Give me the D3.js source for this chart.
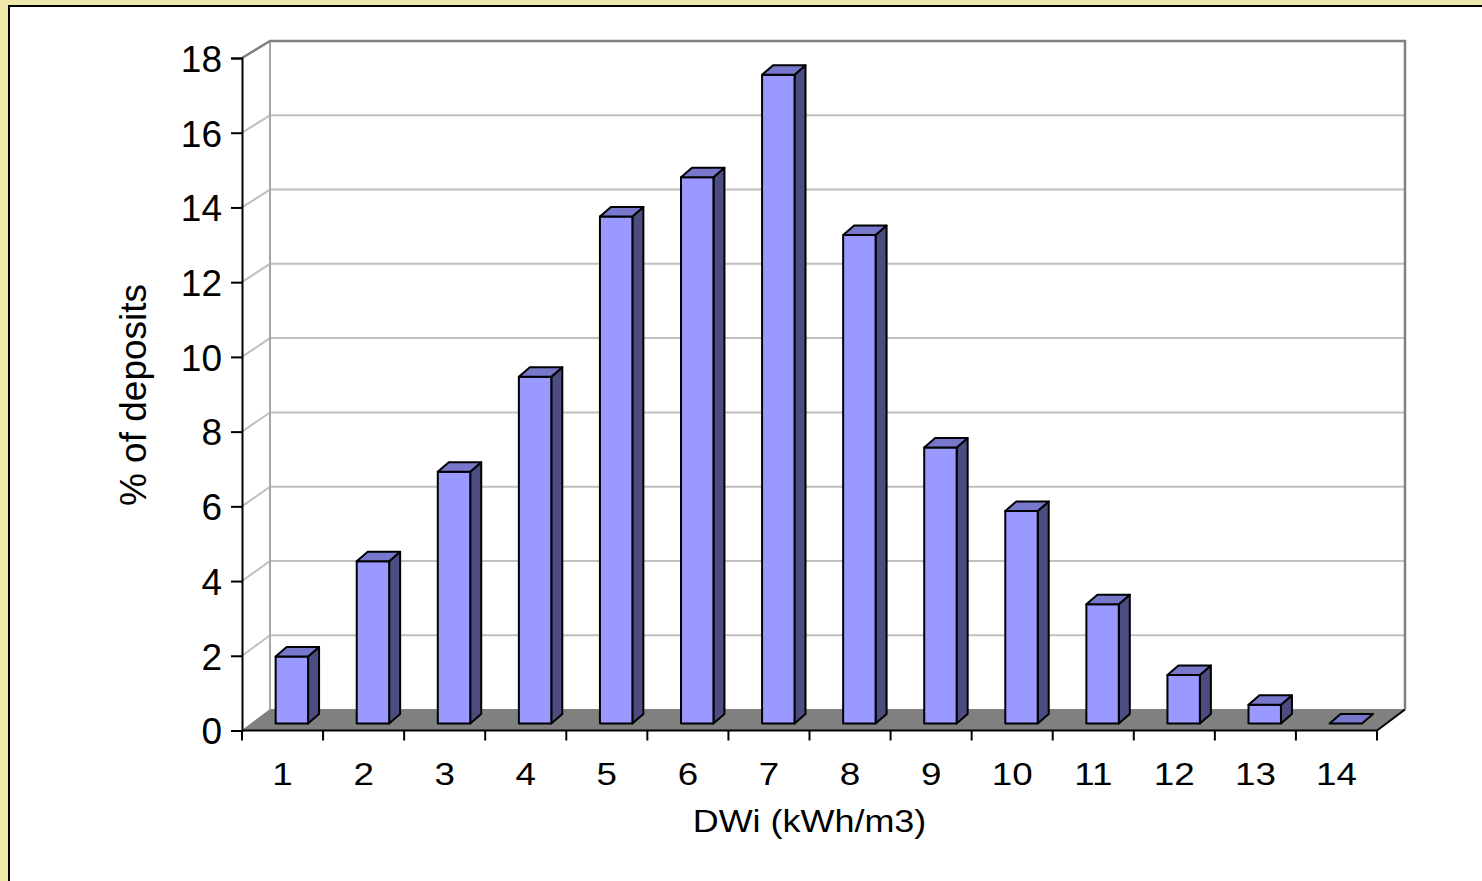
<!DOCTYPE html>
<html>
<head>
<meta charset="utf-8">
<script src="https://cdn.jsdelivr.net/npm/d3@7"></script>
<style>
  html, body { margin: 0; padding: 0; background: #EEE8AA; }
  svg { display: block; }
  text { font-family: "Liberation Sans", Arial, sans-serif; fill: #000; }
</style>
</head>
<body>
<svg id="chart" width="1482" height="881"></svg>
<script>
// ---- data ----
const categories = ["1","2","3","4","5","6","7","8","9","10","11","12","13","14"];
const values = [1.8, 4.35, 6.75, 9.3, 13.6, 14.65, 17.4, 13.1, 7.4, 5.7, 3.2, 1.3, 0.5, 0];
const yTicks = [0, 2, 4, 6, 8, 10, 12, 14, 16, 18];
const xTitle = "DWi (kWh/m3)";
const yTitle = "% of deposits";

// ---- layout ----
const W = 1482, H = 881;
const svg = d3.select("#chart");

// frame
svg.append("rect").attr("x", 0).attr("y", 0).attr("width", W).attr("height", H).attr("fill", "#EEE8AA");
svg.append("rect").attr("x", 9).attr("y", 6).attr("width", W + 20).attr("height", H + 20)
  .attr("fill", "#fff").attr("stroke", "#000").attr("stroke-width", 2);

const x = d3.scaleBand().domain(categories).range([242, 1377]).padding(0);
const yFront = d3.scaleLinear().domain([0, 18]).range([730.5, 58]);
const yBack = d3.scaleLinear().domain([0, 18]).range([709.5, 41]);
const DEPTH_X = 28;
function yAt(v, z) { return yFront(v) * (1 - z) + yBack(v) * z; }
function xAt(px, z) { return px + DEPTH_X * z; }

const xL = x.range()[0], xR = x.range()[1];

// back wall
svg.append("rect").attr("x", xAt(xL, 1)).attr("y", yBack(18))
  .attr("width", xAt(xR, 1) - xAt(xL, 1)).attr("height", yBack(0) - yBack(18))
  .attr("fill", "#fff");

// gridlines (back wall + left wall)
const grid = svg.append("g").attr("stroke", "#C0C0C0").attr("stroke-width", 2).attr("fill", "none");
yTicks.filter(t => t > 0 && t < 18).forEach(t => {
  grid.append("path").attr("d", d3.line()([
    [xAt(xL, 0), yAt(t, 0)], [xAt(xL, 1), yAt(t, 1)], [xAt(xR, 1), yAt(t, 1)]
  ]));
});

// wall edges
svg.append("line").attr("x1", xAt(xL, 1)).attr("x2", xAt(xL, 1))
  .attr("y1", yBack(18)).attr("y2", yBack(0)).attr("stroke", "#A6A6A6").attr("stroke-width", 2);
svg.append("path").attr("fill", "none").attr("stroke", "#808080").attr("stroke-width", 2.5)
  .attr("d", d3.line()([
    [xAt(xL, 0), yAt(18, 0)], [xAt(xL, 1), yAt(18, 1)], [xAt(xR, 1), yAt(18, 1)], [xAt(xR, 1), yAt(0, 1)]
  ]));

// floor
svg.append("path").attr("fill", "#808080").attr("stroke", "#808080").attr("stroke-width", 1)
  .attr("d", d3.line()([
    [xAt(xL, 0), yAt(0, 0)], [xAt(xR, 0), yAt(0, 0)], [xAt(xR, 1), yAt(0, 1)], [xAt(xL, 1), yAt(0, 1)]
  ]) + "Z");
svg.append("line").attr("x1", xAt(xR, 0)).attr("y1", yAt(0, 0)).attr("x2", xAt(xR, 1)).attr("y2", yAt(0, 1))
  .attr("stroke", "#000").attr("stroke-width", 2);

// bars
const Z = 1 / 3;
const barW = x.bandwidth() * 0.4;
const BDX = 11, BDY = -9.5;
const bars = svg.append("g").attr("stroke", "#000").attr("stroke-width", 2).attr("stroke-linejoin", "round");
categories.forEach((c, i) => {
  const v = values[i];
  const cx = xAt(x(c) + x.bandwidth() / 2, Z);
  const x0 = cx - barW / 2, x1 = cx + barW / 2;
  const yT = yAt(v, Z), yB = yAt(0, Z);
  const g = bars.append("g");
  if (v > 0) {
    g.append("path").attr("fill", "#4C4C80").attr("d", d3.line()([
      [x1, yT], [x1 + BDX, yT + BDY], [x1 + BDX, yB + BDY], [x1, yB]
    ]) + "Z");
    g.append("rect").attr("x", x0).attr("y", yT).attr("width", barW).attr("height", yB - yT)
      .attr("fill", "#9999FF");
  }
  g.append("path").attr("fill", "#7777CC").attr("d", d3.line()([
    [x0, yT], [x0 + BDX, yT + BDY], [x1 + BDX, yT + BDY], [x1, yT]
  ]) + "Z");
});

// y axis
const yAxis = d3.axisLeft(yFront).tickValues(yTicks).tickSize(11).tickPadding(9).tickFormat(d3.format("d"));
const gy = svg.append("g").attr("transform", `translate(${xL},0)`).call(yAxis);
gy.select(".domain").attr("stroke", "#000").attr("stroke-width", 2);
gy.selectAll(".tick line").attr("stroke", "#000").attr("stroke-width", 2);
gy.selectAll(".tick text").attr("font-size", 37).attr("font-family", "Liberation Sans, Arial, sans-serif").attr("dy", "0.36em");

// x axis
const gx = svg.append("g").attr("transform", `translate(0,${yAt(0, 0)})`);
gx.append("line").attr("x1", xL).attr("x2", xR).attr("y1", 0).attr("y2", 0).attr("stroke", "#000").attr("stroke-width", 2);
const bounds = categories.map(c => x(c)).concat([xR]);
gx.selectAll("line.tk").data(bounds).join("line").attr("class", "tk")
  .attr("x1", d => d).attr("x2", d => d).attr("y1", 0).attr("y2", 10)
  .attr("stroke", "#000").attr("stroke-width", 2);
gx.selectAll("g.lbl").data(categories).join("g").attr("class", "lbl")
  .attr("transform", d => `translate(${x(d) + x.bandwidth() / 2},54) scale(1.15,1)`)
  .append("text").attr("text-anchor", "middle").attr("font-size", 32).text(d => d);

// titles
svg.append("g").attr("transform", `translate(${(xL + xR) / 2},832) scale(1.16,1)`)
  .append("text").attr("text-anchor", "middle").attr("font-size", 31).text(xTitle);
svg.append("text").attr("transform", "translate(146,395) rotate(-90)")
  .attr("text-anchor", "middle").attr("font-size", 37).text(yTitle);
</script>
</body>
</html>
